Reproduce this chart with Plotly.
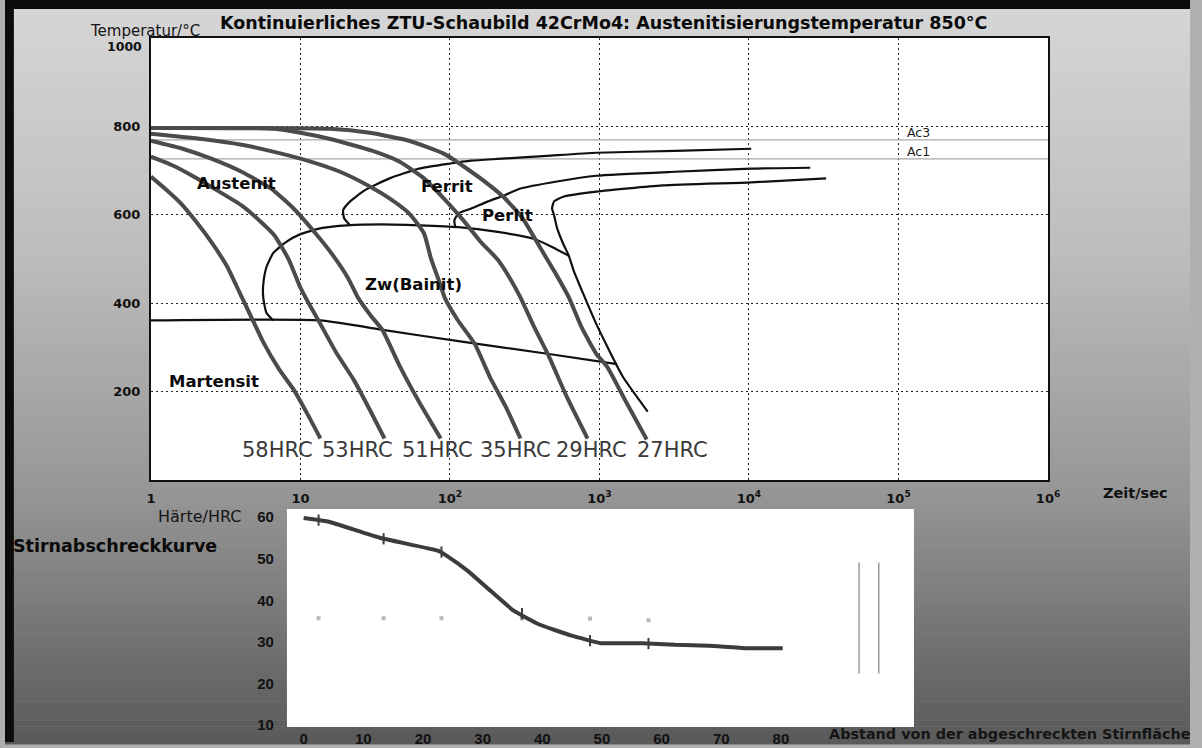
import numpy as np
import plotly.graph_objects as go

W, H = 1202, 748

# ------------------------------------------------------------------ data
# Continuous cooling curves: time [s], temperature [°C]
t_58 = [1.0, 1.24, 1.58, 2.04, 2.56, 3.22, 3.92, 4.70, 5.64, 7.19, 9.03, 11.2, 13.6]
T_58 = [686, 659, 626, 581, 536, 484, 424, 368, 312, 251, 204, 148, 94]
t_53 = [1.0, 1.40, 1.89, 2.77, 4.04, 5.31, 6.67, 8.37, 10.0, 11.3, 13.2, 17.3, 22.8, 29.1, 36.5]
T_53 = [731, 711, 688, 655, 621, 587, 554, 498, 435, 401, 361, 289, 226, 159, 94]
t_51 = [1.0, 1.63, 2.56, 4.04, 6.37, 9.0, 12.6, 16.6, 20.8, 24.2, 29.5, 35.4, 45.8, 62.1, 86.7]
T_51 = [767, 749, 726, 697, 659, 614, 558, 507, 457, 413, 372, 339, 260, 177, 94]
t_35 = [1.0, 2.20, 4.04, 6.67, 11.7, 18.4, 26.9, 39.4, 53.3, 67.0, 74.5, 85.4, 92.1, 112, 147, 185, 236, 296]
T_35 = [783, 771, 758, 742, 720, 697, 670, 637, 603, 558, 502, 446, 413, 363, 307, 233, 166, 94]
t_29 = [1.0, 6.67, 10.0, 15.8, 30.4, 45.8, 67.0, 90.8, 123, 159, 209, 251, 296, 367, 454, 605, 832]
T_29 = [796, 794, 785, 771, 744, 720, 682, 637, 587, 540, 498, 457, 413, 345, 283, 188, 94]
t_27 = [1.0, 15.8, 29.1, 53.3, 90.8, 139, 188, 233, 306, 402, 505, 624, 760, 955, 1127, 1504, 2070]
T_27 = [796, 794, 785, 767, 738, 697, 664, 637, 592, 525, 469, 413, 345, 285, 256, 177, 92]

cool_labels = ["58HRC", "53HRC", "51HRC", "35HRC", "29HRC", "27HRC"]
cool_label_t = [6.98, 23.9, 82.8, 275, 885, 3070]
cool_label_T = [67, 67, 67, 67, 67, 67]

# Transformation boundaries
t_ferrit = [21.5, 19.6, 19.3, 21.5, 26.9, 39.4, 62.1, 98, 139, 209, 447, 955, 3210, 10350]
T_ferrit = [576, 592, 610, 630, 655, 682, 704, 715, 722, 726, 733, 740, 744, 749]
t_perlit_s = [109, 107, 114, 139, 180, 233, 296, 520, 955, 3210, 10350, 25700]
T_perlit_s = [570, 587, 603, 614, 630, 644, 659, 675, 688, 697, 704, 706]
t_perlit_f = [2100, 1438, 955, 673, 624, 569, 520, 497, 482, 497, 578, 955, 2640, 10350, 32800]
T_perlit_f = [155, 233, 352, 473, 507, 536, 570, 599, 614, 630, 641, 652, 666, 673, 682]
t_bainit = [6.57, 5.91, 5.64, 5.64, 5.91, 6.57, 8.0, 10.0, 14.0, 20.5, 35.4, 62.1, 114, 209, 367, 482, 624]
T_bainit = [361, 379, 413, 442, 480, 513, 538, 556, 570, 576, 578, 576, 572, 561, 545, 527, 507]
t_ms = [1.0, 13.6, 36.5, 114, 460, 1312]
T_ms = [361, 361, 339, 314, 285, 262]

ac3_T = 769
ac1_T = 726

region_names = ["Austenit", "Ferrit", "Perlit", "Zw(Bainit)", "Martensit"]
region_t = [3.75, 95, 243, 56.7, 2.64]
region_T = [670, 664, 599, 442, 222]

time_ticks = [1, 10, 100, 1e3, 1e4, 1e5, 1e6]
time_ticktext = ["1", "10", "10<sup>2</sup>", "10<sup>3</sup>", "10<sup>4</sup>",
                 "10<sup>5</sup>", "10<sup>6</sup>"]
temp_ticks = [200, 400, 600, 800]
temp_max = 1000

# Jominy end-quench curve: distance [mm], hardness [HRC]
jom_mm = [0, 2.5, 4.5, 12.9, 22.6, 24.0, 27.5, 31.0, 35.2, 39.3, 44.9, 49.8, 56.7, 62.3, 67.9, 74.1, 80.3]
jom_hrc = [59.8, 59.3, 58.8, 55.0, 51.9, 50.7, 47.1, 42.7, 37.5, 34.3, 31.5, 29.7, 29.7, 29.3, 29.1, 28.5, 28.5]
jom_pt_mm = [2.5, 13.4, 23.1, 36.6, 48.0, 57.8]
jom_pt_hrc = [59.3, 54.8, 51.6, 36.8, 30.3, 29.6]
jom_ref_hrc = [35.7, 35.7, 35.7, 35.6, 35.6, 35.2]
jom_bar_mm = [93.1, 96.4]
jom_bar_hrc = [22.4, 49.1]
dist_ticks = [0, 10, 20, 30, 40, 50, 60, 70, 80]
hrc_ticks = [10, 20, 30, 40, 50, 60]

# ------------------------------------------------------------------ layout helpers
def fx(px):
    return px / W


def fy(py):
    return 1 - py / H


MAIN = dict(l=148, r=1058, t=38, b=484)
LOW = dict(l=286, r=922, t=513, b=733)

FONT = "DejaVu Sans"
FONT2 = "Liberation Sans"

fig = go.Figure()

curve_col = "#4b4b4b"
cool = [(t_58, T_58), (t_53, T_53), (t_51, T_51), (t_35, T_35), (t_29, T_29), (t_27, T_27)]

# Ac lines (under everything)
for T in (ac3_T, ac1_T):
    fig.add_trace(go.Scatter(x=[time_ticks[0], time_ticks[-1]], y=[T, T], mode="lines",
                             line=dict(color="#a8a8a8", width=1.2), xaxis="x", yaxis="y",
                             hoverinfo="skip", showlegend=False))

for tt, TT in [(t_ferrit, T_ferrit), (t_perlit_s, T_perlit_s), (t_perlit_f, T_perlit_f),
               (t_bainit, T_bainit), (t_ms, T_ms)]:
    fig.add_trace(go.Scatter(x=tt, y=TT, mode="lines",
                             line=dict(color="#101010", width=2.2, shape="spline", smoothing=0.5),
                             xaxis="x", yaxis="y", hoverinfo="skip", showlegend=False))

for tt, TT in cool:
    fig.add_trace(go.Scatter(x=tt, y=TT, mode="lines",
                             line=dict(color=curve_col, width=4, shape="spline", smoothing=0.5),
                             xaxis="x", yaxis="y", hoverinfo="skip", showlegend=False))

# Jominy
fig.add_trace(go.Scatter(x=jom_pt_mm, y=jom_ref_hrc, mode="markers",
                         marker=dict(color="#b8b8b8", size=4, symbol="square"),
                         xaxis="x2", yaxis="y2", hoverinfo="skip", showlegend=False))
fig.add_trace(go.Scatter(x=jom_mm, y=jom_hrc, mode="lines",
                         line=dict(color="#3c3c3c", width=4, shape="spline", smoothing=0.3),
                         xaxis="x2", yaxis="y2", hoverinfo="skip", showlegend=False))
fig.add_trace(go.Scatter(x=jom_pt_mm, y=jom_pt_hrc, mode="markers",
                         marker=dict(color="#3c3c3c", size=8, symbol="line-ns-open",
                                     line=dict(color="#3c3c3c", width=2)),
                         xaxis="x2", yaxis="y2", hoverinfo="skip", showlegend=False))
for m in jom_bar_mm:
    fig.add_trace(go.Scatter(x=[m, m], y=jom_bar_hrc, mode="lines",
                             line=dict(color="#9a9a9a", width=1.5),
                             xaxis="x2", yaxis="y2", hoverinfo="skip", showlegend=False))

# ------------------------------------------------------------------ background shapes
shapes = []
grad_y = [0, 250, 500, 748]
grad_v = [215, 190, 150, 90]
band = 6
for y0 in range(0, H, band):
    v = int(np.interp(y0 + band / 2, grad_y, grad_v))
    shapes.append(dict(type="rect", xref="paper", yref="paper", x0=0, x1=1,
                       y0=fy(y0 + band + 0.5), y1=fy(y0), line=dict(width=0),
                       fillcolor=f"rgb({v},{v},{v})", layer="below"))
for box in (MAIN, LOW):
    shapes.append(dict(type="rect", xref="paper", yref="paper", x0=fx(box["l"]), x1=fx(box["r"]),
                       y0=fy(box["b"]), y1=fy(box["t"]), line=dict(width=0),
                       fillcolor="white", layer="below"))
shapes.append(dict(type="rect", xref="paper", yref="paper", x0=0, x1=1, y0=fy(9), y1=1,
                   line=dict(width=0), fillcolor="#0c0c0c", layer="above"))
shapes.append(dict(type="rect", xref="paper", yref="paper", x0=0, x1=fx(9), y0=0, y1=1,
                   line=dict(width=0), fillcolor="#0c0c0c", layer="above"))

# ------------------------------------------------------------------ annotations
ann = []


def text(x, y, s, size, bold=False, color="#111", xanchor="center", yanchor="middle",
         family=FONT, xref="paper", yref="paper", xshift=0):
    ann.append(dict(x=x, y=y, xref=xref, yref=yref, text=s, showarrow=False,
                    xanchor=xanchor, yanchor=yanchor, xshift=xshift,
                    font=dict(family=family, size=size, color=color,
                              weight="bold" if bold else "normal")))


text(fx(607), fy(23), "Kontinuierliches ZTU-Schaubild 42CrMo4: Austenitisierungstemperatur 850°C",
     17.5, bold=True, color="#0a0a0a")
text(fx(142), fy(31), "Temperatur/°C", 15, color="#151515")
text(fx(141), fy(47), str(temp_max), 12.5, bold=True, xanchor="right")
text(fx(1112), fy(497), "Zeit/sec", 14.5, bold=True, xanchor="left")

for name, t, T in zip(region_names, region_t, region_T):
    text(np.log10(t), T, name, 16.5, bold=True, xref="x", yref="y", color="#0a0a0a")
for name, t, T in zip(cool_labels, cool_label_t, cool_label_T):
    text(np.log10(t), T, name, 21, color="#3a3a3a", xref="x", yref="y")

text(5, ac3_T + 16, "Ac3", 12.5, color="#202020", xanchor="left", xref="x", yref="y", xshift=6)
text(5, ac1_T + 16, "Ac1", 12.5, color="#202020", xanchor="left", xref="x", yref="y", xshift=6)

text(fx(241), fy(521), "Härte/HRC", 16, color="#151515", xanchor="right")
text(fx(6), fy(550), "Stirnabschreckkurve", 17.5, bold=True, xanchor="left", color="#0a0a0a")
text(fx(834), fy(740), "Abstand von der abgeschreckten Stirnfläche", 14.4, bold=True,
     xanchor="left", family=FONT, color="#151515")

grid = dict(showgrid=True, gridcolor="#222222", gridwidth=1, griddash="2px,3px")
tf_main = dict(family=FONT, size=13, color="#111", weight="bold")
tf_low = dict(family=FONT2, size=15, color="#111", weight="bold")

fig.update_layout(
    width=W, height=H, margin=dict(l=0, r=0, t=0, b=0),
    paper_bgcolor="#b0b0b0", plot_bgcolor="rgba(0,0,0,0)",
    showlegend=False, shapes=shapes, annotations=ann,
    xaxis=dict(type="log", range=[np.log10(time_ticks[0]), np.log10(time_ticks[-1])],
               domain=[fx(MAIN["l"]), fx(MAIN["r"])], anchor="y",
               tickvals=time_ticks, ticktext=time_ticktext, ticks="",
               tickfont=tf_main, ticklabelstandoff=5,
               showline=True, linecolor="#111", linewidth=2, mirror=True,
               zeroline=False, fixedrange=True, **grid),
    yaxis=dict(range=[0, temp_max], domain=[fy(MAIN["b"]), fy(MAIN["t"])], anchor="x",
               tickvals=temp_ticks, ticks="", tickfont=tf_main, ticklabelstandoff=6,
               showline=True, linecolor="#111", linewidth=2, mirror=True,
               zeroline=False, fixedrange=True, **grid),
    xaxis2=dict(range=[-2.8, 102.3], domain=[fx(LOW["l"]), fx(LOW["r"])], anchor="y2",
                tickvals=dist_ticks, ticks="", tickfont=tf_low, ticklabelstandoff=1,
                showgrid=False, showline=False, zeroline=False, fixedrange=True),
    yaxis2=dict(range=[9.5, 62], domain=[fy(LOW["b"]), fy(LOW["t"])], anchor="x2",
                tickvals=hrc_ticks, ticks="", tickfont=tf_low, ticklabelstandoff=12,
                showgrid=False, showline=False, zeroline=False, fixedrange=True),
)

fig.write_html(
    "out.html",
    config={"displayModeBar": False},
    post_script="document.body.style.margin='0';document.body.style.overflow='hidden';",
)
